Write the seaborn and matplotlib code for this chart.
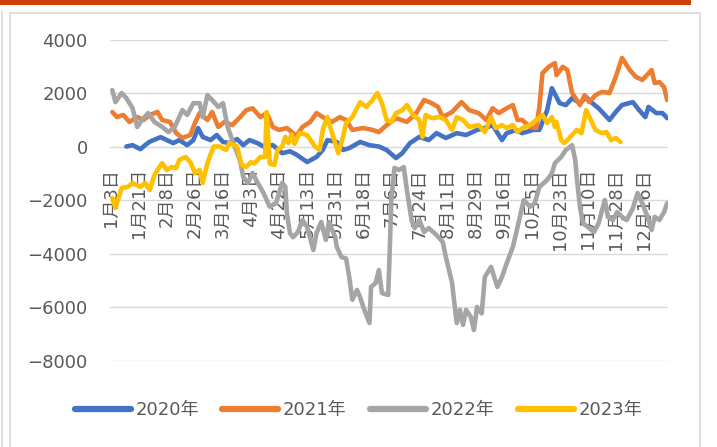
import numpy as np
import pandas as pd
import matplotlib.pyplot as plt
from matplotlib.lines import Line2D
import seaborn as sns

# category axis: day slots through the year, a date label every 18 slots
n_slots = 358
tick_step = 18
tick_labels = ["1月3日", "1月21日", "2月8日", "2月26日", "3月16日", "4月3日",
               "4月22日", "5月13日", "5月31日", "6月18日", "7月6日", "7月24日",
               "8月11日", "8月29日", "9月16日", "10月5日", "10月23日", "11月10日",
               "11月28日", "12月16日"]

years = ["2020年", "2021年", "2022年", "2023年"]
colors = ["#4472C4", "#ED7D31", "#A5A5A5", "#FFC000"]

# 2020
x_2020 = [10, 14, 19, 22, 25, 32, 36, 40, 44, 49, 53, 56, 59, 64, 68, 72, 76, 81, 85, 89,
          94, 98, 104, 110, 115, 119, 126, 132, 136, 139, 145, 149, 153, 160, 166, 172, 177,
          183, 187, 192, 198, 204, 209, 215, 222, 228, 235, 242, 245, 251, 254, 260, 264,
          271, 275, 280, 283, 288, 292, 296, 301, 305, 309, 313, 320, 324, 328, 335, 339,
          343, 345, 350, 354, 357]
y_2020 = [0, 50, -100, 50, 180, 350, 240, 130, 240, 50, 240, 690, 360, 240, 430, 170, 130, 280,
          50, 240, 130, 0, 50, -250, -180, -300, -580, -390, -130, 240, 170, -130, -60, 170, 50,
          0, -130, -430, -250, 130, 360, 240, 500, 320, 500, 430, 620, 730, 800, 240, 500, 620,
          500, 620, 620, 1360, 2180, 1620, 1550, 1810, 1620, 1850, 1620, 1430, 990, 1290, 1550,
          1660, 1360, 1100, 1480, 1250, 1250, 1060]

# 2021
x_2021 = [1, 4, 8, 12, 17, 21, 25, 30, 33, 38, 42, 46, 51, 54, 57, 62, 65, 69, 73, 78, 83, 87,
          91, 96, 100, 104, 108, 113, 117, 119, 123, 128, 132, 136, 142, 147, 151, 155, 162,
          168, 172, 177, 183, 190, 196, 201, 206, 210, 213, 219, 225, 230, 236, 241, 245, 249,
          254, 258, 261, 264, 269, 273, 275, 277, 281, 285, 286, 290, 293, 296, 299, 301, 304,
          307, 311, 315, 320, 324, 328, 333, 337, 341, 344, 347, 349, 352, 355, 357]
y_2021 = [1290, 1100, 1180, 920, 1100, 990, 1180, 1290, 990, 920, 500, 320, 430, 880, 1250, 990,
          1290, 730, 920, 800, 1100, 1360, 1430, 1100, 1250, 730, 620, 690, 500, 400, 730, 920,
          1250, 1100, 920, 1100, 990, 620, 690, 620, 540, 800, 1060, 920, 1250, 1740, 1620, 1480,
          1100, 1290, 1660, 1360, 1250, 990, 1430, 1250, 1430, 1550, 990, 990, 730, 690, 1480,
          2740, 2980, 3120, 2670, 2980, 2860, 2000, 1740, 1550, 1920, 1660, 1920, 2040, 2000,
          2600, 3310, 2860, 2600, 2490, 2670, 2860, 2370, 2410, 2220, 1740]

# 2022
x_2022 = [1, 3, 7, 10, 14, 17, 20, 24, 28, 33, 37, 41, 46, 49, 53, 57, 59, 62, 65, 69, 72, 75,
          78, 83, 85, 88, 91, 94, 98, 100, 102, 106, 110, 112, 113, 115, 117, 120, 123, 126, 130,
          132, 135, 138, 140, 144, 145, 148, 151, 153, 155, 158, 160, 162, 166, 167, 170, 172,
          174, 178, 179, 180, 182, 185, 188, 190, 193, 195, 198, 201, 204, 209, 213, 215, 219,
          220, 222, 224, 226, 228, 231, 233, 235, 238, 240, 244, 248, 251, 254, 258, 261, 265,
          269, 272, 275, 280, 283, 285, 289, 292, 296, 298, 299, 301, 303, 307, 310, 313, 317,
          319, 322, 325, 328, 331, 335, 338, 341, 344, 347, 349, 352, 355, 357]
y_2022 = [2110, 1660, 2000, 1810, 1430, 730, 990, 1250, 920, 730, 540, 730, 1360, 1180, 1620,
          1620, 1100, 1920, 1740, 1480, 1620, 730, 240, -550, -1140, -1360, -990, -1330, -1740,
          -2000, -2250, -2120, -1360, -1510, -2490, -3240, -3390, -3200, -2750, -3010, -3870,
          -3240, -2820, -3490, -2820, -3390, -3750, -4130, -4190, -4880, -5730, -5360, -5630,
          -6000, -6600, -5250, -5100, -4620, -5480, -5550, -3870, -2000, -800, -880, -770, -1630,
          -2750, -3050, -2750, -3200, -3050, -3310, -3570, -4130, -5100, -5630, -6600, -6110,
          -6670, -6110, -6370, -6860, -6000, -6240, -4880, -4500, -5250, -4880, -4370, -3750,
          -3010, -2000, -2250, -2120, -1510, -1250, -1000, -620, -390, -130, 50, -500, -1140,
          -2250, -2870, -3050, -3200, -2870, -2000, -2630, -2750, -2450, -2630, -2750, -2310,
          -1740, -2120, -2560, -3120, -2630, -2750, -2450, -2120]

# 2023
x_2023 = [1, 3, 7, 11, 14, 19, 22, 25, 28, 30, 33, 36, 39, 42, 44, 48, 51, 54, 57, 59, 62, 64,
          66, 70, 74, 76, 81, 84, 87, 90, 92, 96, 99, 100, 102, 105, 107, 110, 112, 114, 116, 118,
          121, 126, 131, 134, 136, 139, 142, 146, 149, 151, 155, 160, 164, 168, 171, 174, 177,
          180, 183, 187, 190, 194, 198, 200, 202, 206, 211, 215, 219, 222, 226, 230, 236, 240,
          244, 247, 251, 254, 258, 261, 264, 269, 273, 277, 280, 283, 285, 286, 289, 291, 293,
          296, 299, 302, 305, 308, 311, 315, 318, 321, 324, 327]
y_2023 = [-1930, -2300, -1550, -1510, -1360, -1510, -1360, -1630, -1070, -880, -620, -880, -770,
          -800, -500, -390, -580, -990, -880, -1360, -620, -300, 0, 0, -130, 130, 0, -690, -760,
          -580, -640, -390, -390, 1290, -640, -690, -130, 0, 360, 130, 450, 100, 500, 430, 0,
          -130, 620, 1100, 500, -250, 360, 880, 1100, 1660, 1480, 1740, 2000, 1620, 990, 920,
          1250, 1360, 1550, 1180, 990, 360, 1180, 1060, 1100, 990, 620, 1100, 990, 730, 800, 540,
          1100, 690, 800, 690, 800, 540, 690, 800, 990, 1180, 880, 1100, 730, 920, 240, 130, 240,
          430, 620, 500, 1360, 990, 620, 500, 540, 240, 320, 170]

frames = []
for name, xs, ys in zip(years, [x_2020, x_2021, x_2022, x_2023],
                        [y_2020, y_2021, y_2022, y_2023]):
    frames.append(pd.DataFrame({"slot": xs, "value": ys, "year": name}))
df = pd.concat(frames, ignore_index=True)

sns.set_theme(style="white")
plt.rcParams["font.family"] = ["DejaVu Sans", "Noto Sans CJK SC"]

fig = plt.figure(figsize=(7.17, 4.47), dpi=100, facecolor="white")
ax = fig.add_axes([0.1534, 0.1935, 0.7782, 0.7181])

sns.lineplot(data=df, x="slot", y="value", hue="year", hue_order=years,
             palette=colors, linewidth=3.3, legend=False, ax=ax,
             solid_capstyle="round", solid_joinstyle="round")

ax.set_xlim(-0.5, n_slots - 0.5)
ax.set_ylim(-8000, 4000)
ax.set_yticks(np.arange(-8000, 4001, 2000))
ax.yaxis.grid(True, color="#D9D9D9", linewidth=1.0)
ax.xaxis.grid(False)
ax.set_axisbelow(True)
ax.set_xlabel("")
ax.set_ylabel("")

# date labels hang from the zero line
ax.spines["bottom"].set_position(("data", 0))
for s in ["top", "right", "left", "bottom"]:
    ax.spines[s].set_color("none")
ax.set_xticks(np.arange(len(tick_labels)) * tick_step)
ax.set_xticklabels(tick_labels, rotation=90)
ax.tick_params(axis="x", length=0, pad=15.5, labelsize=13, colors="#595959")
ax.tick_params(axis="y", length=0, pad=16, labelsize=13, colors="#595959")

handles = [Line2D([], [], color=c, linewidth=4.5, solid_capstyle="round") for c in colors]
ax.legend(handles, years, loc="center", bbox_to_anchor=(0.5, 0.083),
          bbox_transform=fig.transFigure, ncol=4, frameon=False, fontsize=13,
          handlelength=3.1, handletextpad=0.25, columnspacing=1.3, labelcolor="#595959")

# chart frame and title bar
fig.add_artist(plt.Rectangle((0, 1 - 4.5 / 447), 691 / 717, 4.5 / 447,
                             transform=fig.transFigure, color="#D0400B", lw=0))
fig.add_artist(Line2D([10 / 717, 10 / 717, 700 / 717, 700 / 717],
                      [0, 1 - 13 / 447, 1 - 13 / 447, 0],
                      transform=fig.transFigure, color="#D9D9D9", lw=1.2))
fig.add_artist(Line2D([2 / 717, 2 / 717], [0, 1 - 11 / 447],
                      transform=fig.transFigure, color="#D9D9D9", lw=1.2))

fig.savefig("out.png", dpi=100)
